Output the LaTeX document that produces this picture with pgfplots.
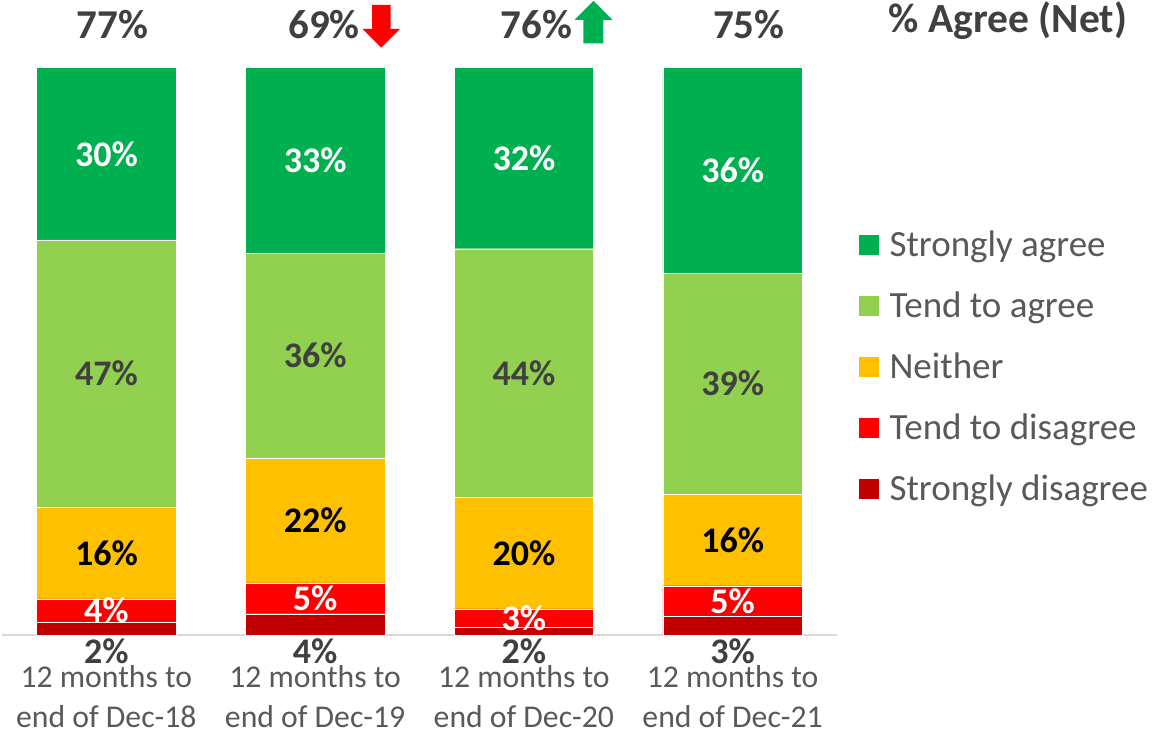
\documentclass[border=0pt]{standalone}
\usepackage{pgfplots}
\pgfplotsset{compat=1.18}
\usepackage{pgfplotstable}
\usepackage{fontspec}
\setmainfont{Carlito}
\definecolor{sac}{HTML}{00B050}
\definecolor{tac}{HTML}{92D050}
\definecolor{nec}{HTML}{FFC000}
\definecolor{tdc}{HTML}{FF0000}
\definecolor{sdc}{HTML}{C00000}
\definecolor{dark}{HTML}{404040}
\definecolor{mid}{HTML}{595959}
\definecolor{axisgray}{HTML}{D9D9D9}

\pgfplotstableread{
x sd td ne ta sa sdl tdl nel tal sal
0 2.24 4.11 16.2 47.1 30.35 2 4 16 47 30
1 3.75 5.46 22.0 36.1 32.69 4 5 22 36 33
2 1.36 3.23 19.7 43.8 31.91 2 3 20 44 32
3 3.23 5.46 16.2 38.9 36.21 3 5 16 39 36
}\datatable

\begin{document}
\begin{tikzpicture}
\path[use as bounding box] (-2pt,-96pt) rectangle (1150pt,635pt);
\begin{axis}[
  at={(0pt,0pt)}, anchor=south west,
  scale only axis, width=835pt, height=567.3pt,
  xmin=-0.5, xmax=3.5, ymin=0, ymax=100,
  ybar stacked, bar width=139.5pt,
  axis x line*=bottom, axis y line=none,
  x axis line style={draw=axisgray, line width=1.5pt, -},
  xtick={0,1,2,3},
  xticklabels={12 months to\\end of Dec-18,12 months to\\end of Dec-19,12 months to\\end of Dec-20,12 months to\\end of Dec-21},
  major tick length=0pt,
  xticklabel style={align=center, font=\fontsize{31.7}{40}\selectfont, text=mid, inner sep=0pt, anchor=north, yshift=-30pt},
  ytick=\empty,
  clip=false,
  point meta=explicit symbolic,
  nodes near coords={\pgfplotspointmeta\%},
  every node near coord/.append style={anchor=center, font=\bfseries\fontsize{36}{43}\selectfont},
  legend cell align=left,
  reverse legend,
  legend style={at={(1.0251,0.7210)}, anchor=north west, draw=none, fill=none, inner sep=0pt,
    row sep=24pt, font=\fontsize{37}{43}\selectfont, text=mid,
    nodes={inner sep=0pt, text height=30pt, text depth=7pt},
    /tikz/every odd column/.append style={column sep=10pt}},
  legend image code/.code={\fill[#1] (0pt,-10.5pt) rectangle (21pt,10.5pt);},
]
\addplot[fill=sdc, draw=white, line width=0.4pt,
  visualization depends on={\thisrow{sd}\as\segh},
  every node near coord/.append style={text=dark, yshift={-\segh*2.8365pt-16.5pt}}]
  table[x=x, y=sd, meta=sdl]{\datatable};
\addlegendentry{Strongly disagree}
\addplot[fill=tdc, draw=white, line width=0.4pt,
  every node near coord/.append style={text=white}]
  table[x=x, y=td, meta=tdl]{\datatable};
\addlegendentry{Tend to disagree}
\addplot[fill=nec, draw=white, line width=0.4pt,
  every node near coord/.append style={text=black}]
  table[x=x, y=ne, meta=nel]{\datatable};
\addlegendentry{Neither}
\addplot[fill=tac, draw=white, line width=0.4pt,
  every node near coord/.append style={text=dark}]
  table[x=x, y=ta, meta=tal]{\datatable};
\addlegendentry{Tend to agree}
\addplot[fill=sac, draw=white, line width=0.4pt,
  every node near coord/.append style={text=white}]
  table[x=x, y=sa, meta=sal]{\datatable};
\addlegendentry{Strongly agree}
\end{axis}
\begin{scope}[font=\bfseries\fontsize{41}{49}\selectfont, text=dark]
\node[anchor=base, inner sep=0pt] at (110.5pt,596pt) {77\%};
\node[anchor=base, inner sep=0pt] at (322pt,596pt) {69\%};
\node[anchor=base, inner sep=0pt] at (534.7pt,596pt) {76\%};
\node[anchor=base, inner sep=0pt] at (746.8pt,596pt) {75\%};
\node[anchor=base, inner sep=0pt, font=\bfseries\fontsize{41.5}{49}\selectfont] at (1006pt,602pt) {\% Agree (Net)};
\end{scope}
\fill[tdc] (370pt,630pt) -- (388.7pt,630pt) -- (388.7pt,606pt) -- (398pt,606pt) -- (379.3pt,587.3pt) -- (360.7pt,606pt) -- (370pt,606pt) -- cycle;
\fill[sac] (581.3pt,591.7pt) -- (601.3pt,591.7pt) -- (601.3pt,615pt) -- (610.7pt,615pt) -- (591.5pt,634pt) -- (572.3pt,615pt) -- (581.3pt,615pt) -- cycle;
\end{tikzpicture}
\end{document}
